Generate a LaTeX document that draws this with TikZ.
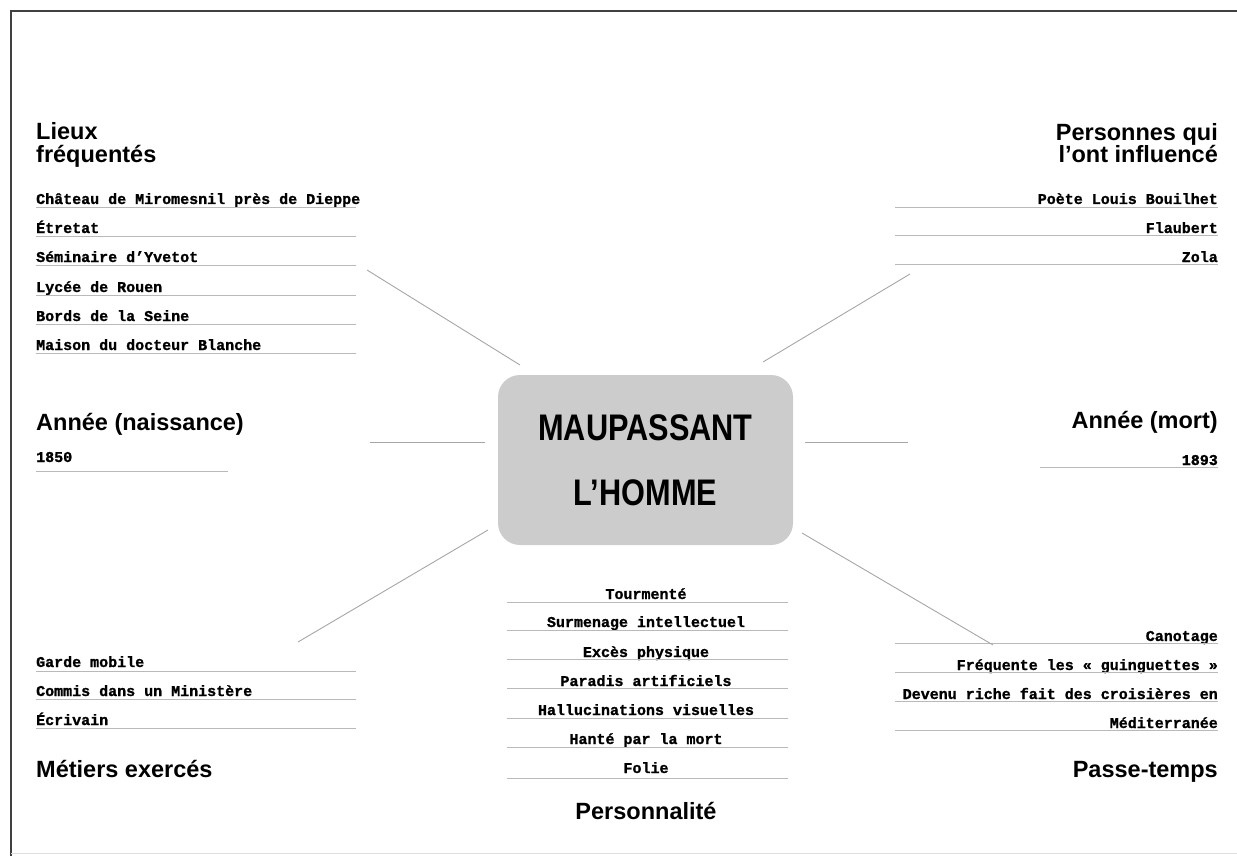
\documentclass[tikz,border=0pt]{standalone}
\usepackage{fontspec}
\setmainfont{Liberation Sans}
\newfontfamily\listfont[BoldFeatures={FakeBold=1.2}]{Liberation Mono}
\newfontfamily\hubfont[FakeStretch=0.83]{Liberation Sans}

\begin{document}
\begin{tikzpicture}
[x=1pt, y=-1pt,
  hubdecorate/.style={shape=rectangle, rounded corners=22pt, fill=black!20,
    minimum width=295pt, minimum height=170pt, align=center, inner sep=0pt,
    font=\hubfont\bfseries\fontsize{37}{65}\selectfont},
  headdecorate/.style={inner sep=0pt, font=\bfseries\fontsize{23.5}{24}\selectfont},
  itemdecorate/.style={inner sep=0pt, font=\listfont\bfseries\fontsize{15}{18}\selectfont},
  ruledecorate/.style={-, gray!55, line width=0.5pt},
  linedecorate/.style={-, gray!70, line width=0.9pt}]
\useasboundingbox (0,0) rectangle (1237,856);
%% frame
\draw[line width=1.2pt, black!75] (11,856) -- (11,11) -- (1237,11);
\draw[gray!25, line width=0.6pt] (11,853) -- (1237,853);
%% central node
\node[hubdecorate] (hub) at (645.5,460) {MAUPASSANT\\L’HOMME};
%% headings
\foreach \nodename/\x/\y/\where/\txt in {lieux/36/140/base west/Lieux,
  lieuxbis/36/163/base west/fréquentés,
  naissance/36/430/base west/{Année (naissance)},
  metiers/36/777/base west/{Métiers exercés},
  personnes/1218/141/base east/{Personnes qui},
  personnesbis/1218/163/base east/{l’ont influencé},
  mort/1218/428/base east/{Année (mort)},
  passetemps/1218/777/base east/Passe-temps,
  personnalite/646/819/base/Personnalité}
{
  \node[headdecorate, anchor=\where] (\nodename) at (\x,\y) {\txt};
}
%% list items and their rules
\foreach \nodename/\x/\y/\where/\from/\to/\ly/\txt in {
  chateau/36/204/base west/36/356/207/{Château de Miromesnil près de Dieppe},
  etretat/36/233/base west/36/356/236/Étretat,
  seminaire/36/262/base west/36/356/265/{Séminaire d’Yvetot},
  lycee/36/292/base west/36/356/295/{Lycée de Rouen},
  bords/36/321/base west/36/356/324/{Bords de la Seine},
  maison/36/350/base west/36/356/353/{Maison du docteur Blanche},
  an1850/36/462/base west/36/228/471/1850,
  bouilhet/1218/204/base east/895/1218/207/{Poète Louis Bouilhet},
  flaubert/1218/233/base east/895/1218/235/Flaubert,
  zola/1218/262/base east/895/1218/264/Zola,
  an1893/1218/465/base east/1040/1218/467/1893,
  garde/36/667/base west/36/356/671/{Garde mobile},
  commis/36/696/base west/36/356/699/{Commis dans un Ministère},
  ecrivain/36/725/base west/36/356/728/Écrivain,
  tourmente/646/599/base/507/788/602/Tourmenté,
  surmenage/646/627/base/507/788/630/{Surmenage intellectuel},
  exces/646/657/base/507/788/659/{Excès physique},
  paradis/646/686/base/507/788/688/{Paradis artificiels},
  halluc/646/715/base/507/788/718/{Hallucinations visuelles},
  hante/646/744/base/507/788/747/{Hanté par la mort},
  folie/646/773/base/507/788/778/Folie,
  canotage/1218/641/base east/895/1218/643/Canotage,
  guinguettes/1218/670/base east/895/1218/672/{Fréquente les « guinguettes »},
  devenu/1218/699/base east/895/1218/701/{Devenu riche fait des croisières en},
  mediterranee/1218/728/base east/895/1218/730/Méditerranée}
{
  \node[itemdecorate, anchor=\where] (\nodename) at (\x,\y) {\txt};
  \draw[ruledecorate] (\from,\ly) -- (\to,\ly);
}
%% spokes
\foreach \nodename/\x/\y in {lieuxend/367/270, lieuxhub/520/365,
  personnesend/910/274, personneshub/763/362,
  naissanceend/370/442, naissancehub/485/442,
  mortend/908/442, morthub/805/442,
  metiersend/298/642, metiershub/488/530,
  passeend/993/645, passehub/802/533}
{
  \coordinate (\nodename) at (\x,\y);
}
\path
\foreach \startnode/\endnode in {lieuxhub/lieuxend, personneshub/personnesend,
  naissancehub/naissanceend, morthub/mortend, metiershub/metiersend,
  passehub/passeend}
{
  (\startnode) edge[linedecorate] (\endnode)
};
\end{tikzpicture}
\end{document}
